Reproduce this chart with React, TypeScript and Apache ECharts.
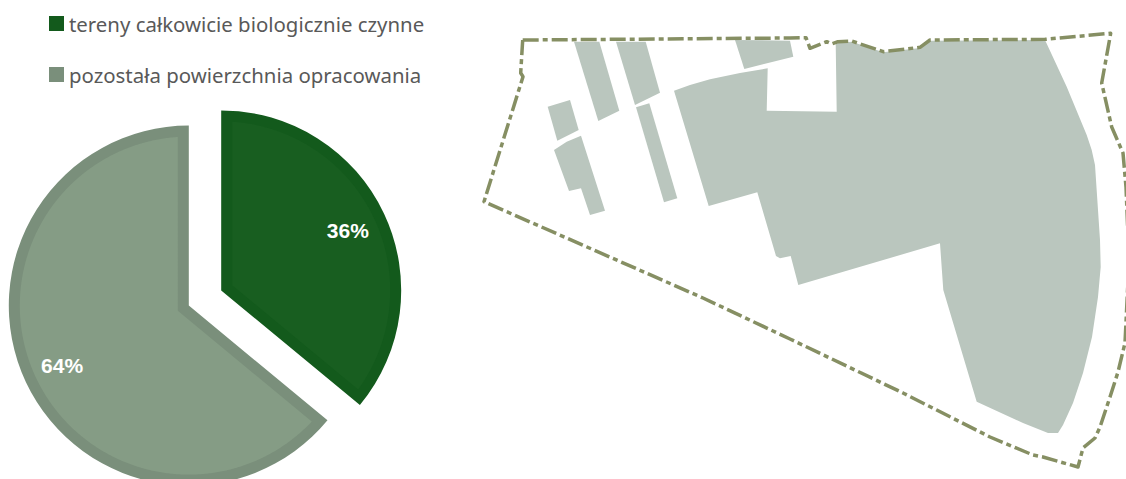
import React, { useEffect, useRef } from "react";
import * as echarts from "echarts";

const categories = ["tereny całkowicie biologicznie czynne", "pozostała powierzchnia opracowania"];
const shares = [36, 64];
const edgeColors = ["#135a1c", "#7a8f7b"];
const fillColors = ["#185e20", "#859c85"];

// Site plan outlines, in page pixels
const siteBlocks: number[][][] = [
  [[735, 40], [790, 40.7], [793.3, 56.7], [744.3, 69]],
  [[574, 41.7], [599.3, 41.7], [619.3, 110.7], [598.3, 121]],
  [[616, 41.7], [645.7, 41.7], [660, 92.7], [635, 105]],
  [[547.7, 106.7], [570, 100], [578.7, 130], [557.3, 140.7]],
  [[554, 150], [566.7, 141.7], [581, 135.7], [605, 210.7], [590, 215], [581, 188.3], [569, 191]],
  [[636, 107.3], [649.3, 103.3], [677.3, 198.3], [664, 202.3]],
  [
    [674, 90.7], [690, 85], [710, 79.3], [740, 73], [767.7, 68.3], [766.7, 110.7], [836.7, 111.7], [835.7, 43.3],
    [851.7, 41.7], [883.3, 52.3], [920, 48], [930, 40.7], [1045, 40], [1066.7, 86.7],
    [1086.7, 135], [1091.7, 150], [1095, 165], [1100, 240], [1100.7, 267], [1098, 297], [1092, 337],
    [1083, 373], [1073, 403], [1063, 425], [1058, 433], [1048, 433], [1023, 423], [976.7, 401.7], [943.3, 290],
    [940, 243.3], [798.3, 285], [790.7, 256], [780, 258.3], [776, 256], [757.3, 192.3], [708.7, 206],
  ],
];
const siteBoundary: number[][] = [
  [522.7, 40], [790, 38], [806, 37.7], [810, 48.3], [826.7, 41.7], [831.7, 44], [838, 41.7],
  [851.7, 41], [883.3, 51.7], [920, 47.3], [930, 40], [1045, 39.3], [1110.7, 33.3],
  [1101.7, 83], [1111.7, 127], [1123, 153], [1126, 187], [1129, 260], [1125, 343],
  [1118, 372], [1110, 397], [1100, 427], [1095, 438], [1083, 448], [1078, 467], [1043, 457], [1033, 455],
  [990, 437], [903, 393], [790, 339], [703, 298],
  [484, 201.7], [523, 76.7], [520.7, 73], [522.7, 40],
];

const CENTER = [205, 298];
const RADIUS = 180;
const LABEL_RING = 94;
const EXPLODE = 17.9;
const EDGE = 11;
const total = shares.reduce((a, b) => a + b, 0);
const rad = (deg: number) => (deg * Math.PI) / 180;

// Inner panel of a slice: the exploded sector inset by the edge band on all sides
function innerPanel(index: number): number[][] {
  const before = shares.slice(0, index).reduce((a, b) => a + b, 0);
  const from = (before / total) * 360;
  const sweep = (shares[index] / total) * 360;
  const mid = from + sweep / 2;
  const polar = (r: number, deg: number, ox: number, oy: number) => [
    ox + r * Math.sin(rad(deg)),
    oy - r * Math.cos(rad(deg)),
  ];
  const [ox, oy] = polar(EXPLODE, mid, CENTER[0], CENTER[1]);
  const inner = RADIUS - EDGE;
  const inset = (Math.asin(EDGE / inner) * 180) / Math.PI;
  const points = [polar(EDGE / Math.sin(rad(sweep / 2)), mid, ox, oy)];
  const steps = Math.ceil(sweep * 2);
  for (let i = 0; i <= steps; i++) {
    const a = from + inset + ((sweep - 2 * inset) * i) / steps;
    points.push(polar(inner, a, ox, oy));
  }
  return points;
}

export default function App() {
  const ref = useRef<HTMLDivElement>(null);

  useEffect(() => {
    document.body.style.margin = "0";
    document.body.style.background = "#ffffff";
    const chart = echarts.init(ref.current!, null, { renderer: "svg" });
    const pieBase = {
      type: "pie",
      center: CENTER,
      startAngle: 90,
      clockwise: true,
      selectedMode: "multiple",
      selectedOffset: EXPLODE,
      silent: true,
      labelLine: { show: false },
    };
    chart.setOption({
      animation: false,
      backgroundColor: "#ffffff",
      legend: {
        orient: "vertical",
        left: 49,
        top: 12.5,
        padding: 0,
        itemWidth: 15,
        itemHeight: 15,
        itemGap: 29,
        icon: "rect",
        selectedMode: false,
        data: categories,
        textStyle: { fontFamily: "Noto Sans", fontSize: 20.4, color: "#595959", height: 22, lineHeight: 22 },
      },
      graphic: [
        ...siteBlocks.map((points) => ({
          type: "polygon",
          z: 1,
          shape: { points },
          style: { fill: "#bac6be" },
        })),
        {
          type: "polyline",
          z: 2,
          shape: { points: siteBoundary },
          style: {
            fill: "none",
            stroke: "#868f63",
            lineWidth: 3.5,
            lineDash: [16, 4, 5, 4],
            lineJoin: "round",
          },
        },
      ],
      series: [
        {
          ...pieBase,
          name: "udział",
          radius: [0, RADIUS],
          z: 3,
          itemStyle: { borderWidth: 0 },
          select: { itemStyle: { borderWidth: 0 } },
          label: { show: false },
          data: categories.map((name, i) => ({
            name,
            value: shares[i],
            selected: true,
            itemStyle: { color: edgeColors[i] },
            select: { itemStyle: { color: edgeColors[i], borderWidth: 0 } },
          })),
        },
        {
          type: "custom",
          name: "panele",
          coordinateSystem: "none",
          z: 4,
          silent: true,
          data: shares,
          renderItem: (params: any) => ({
            type: "polygon",
            shape: { points: innerPanel(params.dataIndex) },
            style: { fill: fillColors[params.dataIndex] },
          }),
        },
        {
          // Unfilled ring on top that only carries the percentage labels
          ...pieBase,
          name: "etykiety",
          radius: [LABEL_RING, RADIUS],
          z: 5,
          itemStyle: { color: "transparent", borderWidth: 0 },
          select: { itemStyle: { color: "transparent", borderWidth: 0 } },
          label: {
            show: true,
            position: "inside",
            formatter: "{c}%",
            fontFamily: "Liberation Sans",
            fontSize: 21,
            fontWeight: "bold",
            color: "#ffffff",
          },
          data: categories.map((name, i) => ({ name, value: shares[i], selected: true })),
        },
      ],
    });
    return () => chart.dispose();
  }, []);

  return <div ref={ref} style={{ width: 1126, height: 479 }} />;
}
